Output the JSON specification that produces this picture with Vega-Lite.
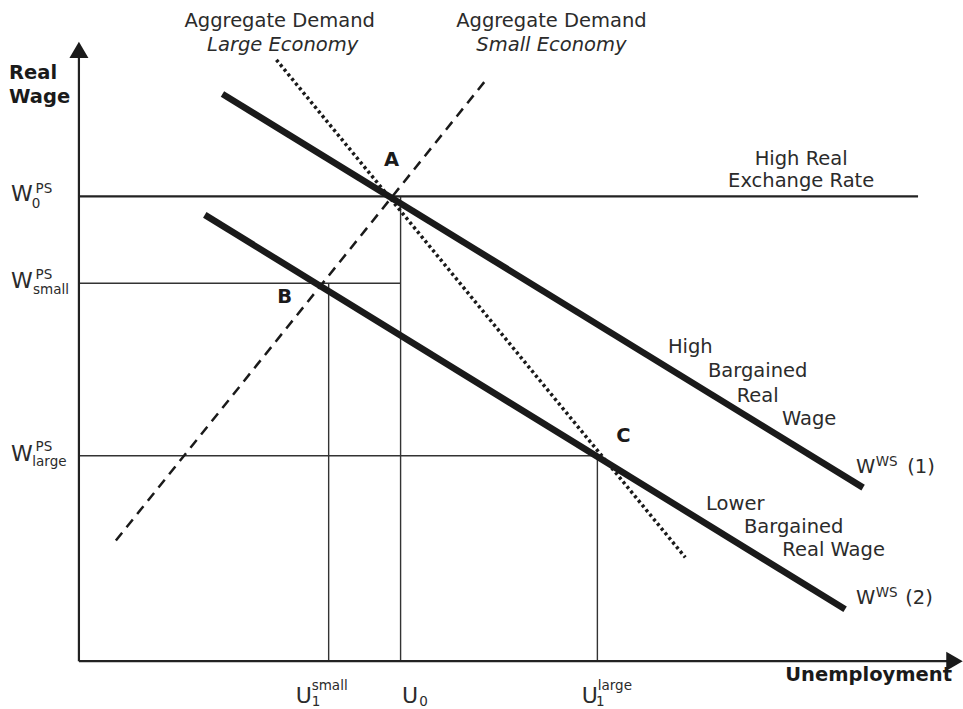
{
  "$schema": "https://vega.github.io/schema/vega-lite/v6.json",
  "width": 963,
  "height": 709,
  "autosize": {"type": "fit", "contains": "padding"},
  "padding": 0,
  "background": "white",
  "config": {"view": {"stroke": null}, "text": {"font": "DejaVu Sans", "color": "#2b2b2b", "baseline": "middle", "align": "center"}},
  "datasets": {
    "axes": [
      {"x": 0, "y": 0, "x2": 0, "y2": 605},
      {"x": 0, "y": 0, "x2": 870, "y2": 0},
      {"x": 0, "y": 466, "x2": 840, "y2": 466}
    ],
    "guides": [
      {"x": 0, "y": 379, "x2": 322, "y2": 379},
      {"x": 0, "y": 206, "x2": 519, "y2": 206},
      {"x": 250, "y": 0, "x2": 250, "y2": 379},
      {"x": 322, "y": 0, "x2": 322, "y2": 466},
      {"x": 519, "y": 0, "x2": 519, "y2": 206}
    ],
    "wageSetting": [
      {"curve": "WS1", "x": 143.7, "y": 568.7, "x2": 785, "y2": 174},
      {"curve": "WS2", "x": 126, "y": 447.5, "x2": 767, "y2": 52}
    ],
    "adLarge": [{"x": 197.7, "y": 603, "x2": 607, "y2": 104}],
    "adSmall": [{"x": 37, "y": 121, "x2": 410, "y2": 586}],
    "arrowUp": [{"x": 0, "y": 613}],
    "arrowRight": [{"x": 876.5, "y": 0}],
    "labels": [
      {"x": 201, "y": 642, "t": "Aggregate Demand"},
      {"x": 473, "y": 642, "t": "Aggregate Demand"},
      {"x": 723, "y": 504, "t": "High Real"},
      {"x": 723, "y": 481, "t": "Exchange Rate"},
      {"x": 612, "y": 315, "t": "High"},
      {"x": 679.5, "y": 291, "t": "Bargained"},
      {"x": 679.5, "y": 266, "t": "Real"},
      {"x": 731, "y": 243, "t": "Wage"},
      {"x": 657, "y": 158, "t": "Lower"},
      {"x": 715.5, "y": 135, "t": "Bargained"},
      {"x": 755.5, "y": 111, "t": "Real Wage"},
      {"x": 787.5, "y": 195, "t": "W"},
      {"x": 843, "y": 195, "t": "(1)"},
      {"x": 787.5, "y": 63.5, "t": "W"},
      {"x": 841, "y": 63, "t": "(2)"}
    ],
    "italicLabels": [
      {"x": 204, "y": 618, "t": "Large Economy"},
      {"x": 473, "y": 618, "t": "Small Economy"}
    ],
    "points": [
      {"x": 313, "y": 503, "t": "A"},
      {"x": 206, "y": 365, "t": "B"},
      {"x": 545, "y": 226, "t": "C"}
    ],
    "yTitle": [
      {"x": -70, "y": 590, "t": "Real"},
      {"x": -70, "y": 566, "t": "Wage"}
    ],
    "xTitle": [{"x": 874, "y": -14, "t": "Unemployment"}],
    "symbols": [
      {"x": -57, "y": 468, "t": "W"},
      {"x": -57, "y": 381, "t": "W"},
      {"x": -57, "y": 208, "t": "W"},
      {"x": 225, "y": -35, "t": "U"},
      {"x": 331.5, "y": -35, "t": "U"},
      {"x": 511.5, "y": -35, "t": "U"}
    ],
    "scripts": [
      {"x": -35, "y": 473, "t": "PS"},
      {"x": -43, "y": 458, "t": "0"},
      {"x": -35, "y": 387, "t": "PS"},
      {"x": -28, "y": 372, "t": "small"},
      {"x": -35, "y": 215, "t": "PS"},
      {"x": -29.5, "y": 200, "t": "large"},
      {"x": 237.5, "y": -41, "t": "1"},
      {"x": 251, "y": -25, "t": "small"},
      {"x": 345, "y": -41, "t": "0"},
      {"x": 522, "y": -41, "t": "1"},
      {"x": 536.5, "y": -25, "t": "large"},
      {"x": 808.5, "y": 200, "t": "WS"},
      {"x": 808.5, "y": 68, "t": "WS"}
    ]
  },
  "encoding": {
    "x": {"field": "x", "type": "quantitative", "scale": {"domain": [-79, 884], "nice": false, "zero": false}, "axis": null},
    "y": {"field": "y", "type": "quantitative", "scale": {"domain": [-46, 663], "nice": false, "zero": false}, "axis": null}
  },
  "layer": [
    {"data": {"name": "guides"}, "mark": {"type": "rule", "color": "#333333", "strokeWidth": 1.4},
     "encoding": {"x2": {"field": "x2"}, "y2": {"field": "y2"}}},
    {"data": {"name": "axes"}, "mark": {"type": "rule", "color": "#222222", "strokeWidth": 2.2},
     "encoding": {"x2": {"field": "x2"}, "y2": {"field": "y2"}}},
    {"data": {"name": "adLarge"}, "mark": {"type": "rule", "color": "#1a1a1a", "strokeWidth": 3.5, "strokeDash": [3, 3]},
     "encoding": {"x2": {"field": "x2"}, "y2": {"field": "y2"}}},
    {"data": {"name": "adSmall"}, "mark": {"type": "rule", "color": "#1a1a1a", "strokeWidth": 2.5, "strokeDash": [10, 7]},
     "encoding": {"x2": {"field": "x2"}, "y2": {"field": "y2"}}},
    {"data": {"name": "wageSetting"}, "mark": {"type": "rule", "color": "#1a1a1a", "strokeWidth": 6.5},
     "encoding": {"x2": {"field": "x2"}, "y2": {"field": "y2"}}},
    {"data": {"name": "arrowUp"}, "mark": {"type": "point", "shape": "triangle-up", "size": 361, "filled": true, "color": "#1a1a1a", "opacity": 1}},
    {"data": {"name": "arrowRight"}, "mark": {"type": "point", "shape": "triangle-right", "size": 361, "filled": true, "color": "#1a1a1a", "opacity": 1}},
    {"data": {"name": "labels"}, "mark": {"type": "text", "fontSize": 19.5},
     "encoding": {"text": {"field": "t"}}},
    {"data": {"name": "italicLabels"}, "mark": {"type": "text", "fontSize": 19.5, "fontStyle": "italic"},
     "encoding": {"text": {"field": "t"}}},
    {"data": {"name": "points"}, "mark": {"type": "text", "fontSize": 19.5, "fontWeight": "bold", "color": "#1a1a1a"},
     "encoding": {"text": {"field": "t"}}},
    {"data": {"name": "yTitle"}, "mark": {"type": "text", "fontSize": 19.5, "fontWeight": "bold", "align": "left", "color": "#1a1a1a"},
     "encoding": {"text": {"field": "t"}}},
    {"data": {"name": "xTitle"}, "mark": {"type": "text", "fontSize": 19.5, "fontWeight": "bold", "align": "right", "color": "#1a1a1a"},
     "encoding": {"text": {"field": "t"}}},
    {"data": {"name": "symbols"}, "mark": {"type": "text", "fontSize": 22},
     "encoding": {"text": {"field": "t"}}},
    {"data": {"name": "scripts"}, "mark": {"type": "text", "fontSize": 13.5},
     "encoding": {"text": {"field": "t"}}}
  ]
}
